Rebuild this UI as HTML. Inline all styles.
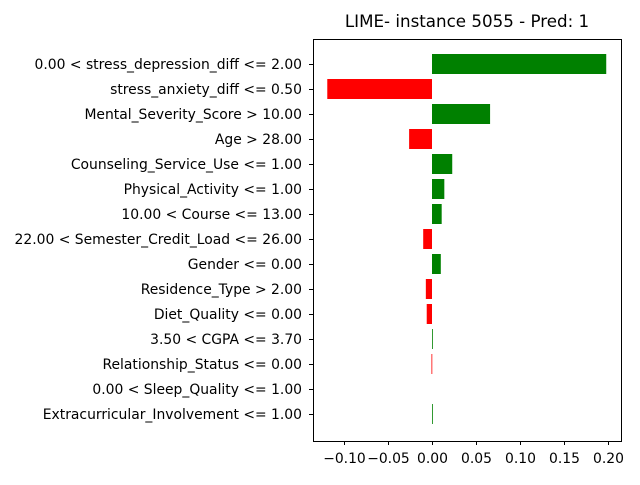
<!DOCTYPE html>
<html><head><meta charset="utf-8"><style>
body{margin:0;background:#fff;}
svg{font-family:"DejaVu Sans","Liberation Sans",sans-serif;}
</style></head><body>
<svg id="chart" width="640" height="480" viewBox="0 0 640 480">
<text x="467" y="27" font-size="16.7" text-anchor="middle">LIME- instance 5055 - Pred: 1</text>
<g id="bars"></g>
<rect x="313.5" y="39.5" width="308" height="402" fill="none" stroke="#000" stroke-width="1"/>
<g id="yt"></g><g id="xt"></g>
</svg>
<script>
const labels=["0.00 < stress_depression_diff <= 2.00","stress_anxiety_diff <= 0.50","Mental_Severity_Score > 10.00","Age > 28.00","Counseling_Service_Use <= 1.00","Physical_Activity <= 1.00","10.00 < Course <= 13.00","22.00 < Semester_Credit_Load <= 26.00","Gender <= 0.00","Residence_Type > 2.00","Diet_Quality <= 0.00","3.50 < CGPA <= 3.70","Relationship_Status <= 0.00","0.00 < Sleep_Quality <= 1.00","Extracurricular_Involvement <= 1.00"];
const values=[0.198,-0.119,0.066,-0.026,0.023,0.014,0.011,-0.010,0.010,-0.007,-0.006,0.0006,-0.0006,0.0,0.0005];
const xticks=[-0.10,-0.05,0.00,0.05,0.10,0.15,0.20];
const NS="http://www.w3.org/2000/svg";
const x=v=>432+v*880;
const y=i=>64+25*i;
function mk(t,a,p){const e=document.createElementNS(NS,t);for(const k in a)e.setAttribute(k,a[k]);p.appendChild(e);return e;}
const bars=document.getElementById('bars'),yt=document.getElementById('yt'),xt=document.getElementById('xt');
values.forEach((v,i)=>{
 if(v===0)return;
 const x0=Math.min(x(0),x(v)),w=Math.max(Math.abs(x(v)-x(0)),0.8);
 const r=mk('rect',{x:x0,y:y(i)-10,width:w,height:20,fill:v>=0?'#008000':'#ff0000'},bars);
 
 
});
labels.forEach((l,i)=>{
 mk('line',{x1:309,x2:313,y1:y(i)+0.5,y2:y(i)+0.5,stroke:'#000'},yt);
 const t=mk('text',{x:302,y:y(i)+5,'font-size':13.9,'text-anchor':'end'},yt);
 t.textContent=l;
 
 
});
xticks.forEach((v,i)=>{
 const px=Math.round(x(v))+0.5;
 mk('line',{x1:px,x2:px,y1:441,y2:445,stroke:'#000'},xt);
 const t=mk('text',{x:px,y:463,'font-size':13.9,'text-anchor':'middle'},xt);
 t.textContent=(v<0?'\u2212':'')+Math.abs(v).toFixed(2);
 
 
});
</script>
</body></html>
